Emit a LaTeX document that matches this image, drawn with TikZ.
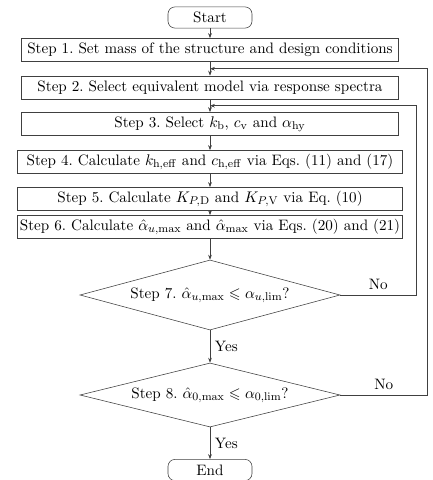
\documentclass[tikz,border=0pt]{standalone}
\usepackage{amsmath}
\usepackage{amssymb}
\usepackage{tikz}
\usetikzlibrary{positioning, shapes, arrows.meta, calc}

\tikzset{
  stepbox/.style={draw=black!75, rectangle, minimum height=0.58cm, inner sep=1pt},
  term/.style={draw=black!75, rectangle, rounded corners=5pt, minimum width=2.1cm, minimum height=0.53cm, inner sep=1pt},
  check/.style={draw=black!75, diamond, aspect=3.7, inner sep=0pt, minimum width=6.5cm},
  flow/.style={->, draw=black!75},
}

\begin{document}
\begin{tikzpicture}[x=0.025cm, y=-0.025cm, >={Stealth[length=3.5pt,width=2.6pt]},
    font=\fontsize{10.75pt}{13pt}\selectfont]
      \useasboundingbox (0,0) rectangle (433,480);

      % Terminals and steps
      \node[term] (start) at (210,17.5) {Start};
      \node[stepbox, minimum width=9.425cm] (s1) at (210,50) {Step 1.\ Set mass of the structure and design conditions};
      \node[stepbox, minimum width=9.425cm] (s2) at (210,87.5) {Step 2.\ Select equivalent model via response spectra};
      \node[stepbox, minimum width=9.425cm] (s3) at (210,124) {Step 3.\ Select $k_{\mathrm{b}}$, $c_{\mathrm{v}}$ and $\alpha_{\mathrm{hy}}$};
      \node[stepbox, minimum width=9.625cm] (s4) at (210,162) {Step 4.\ Calculate $k_{\mathrm{h,eff}}$ and $c_{\mathrm{h,eff}}$ via Eqs.\ (11) and (17)};
      \node[stepbox, minimum width=9.625cm] (s5) at (210,199) {Step 5.\ Calculate $K_{P,\mathrm{D}}$ and $K_{P,\mathrm{V}}$ via Eq.\ (10)};
      \node[stepbox, minimum width=9.625cm] (s6) at (210,227) {Step 6.\ Calculate $\hat{\alpha}_{u,\max}$ and $\hat{\alpha}_{\max}$ via Eqs.\ (20) and (21)};

      % Checks
      \node[check, minimum height=1.75cm] (d7) at (210,295) {Step 7.\ $\hat{\alpha}_{u,\max} \leqslant \alpha_{u,\mathrm{lim}}$?};
      \node[check, minimum height=1.6cm] (d8) at (210,395) {Step 8.\ $\hat{\alpha}_{0,\max} \leqslant \alpha_{0,\mathrm{lim}}$?};
      \node[term] (end) at (210,470) {End};

      % Loop entry points
      \coordinate (in2) at ($(s1.south)!0.5!(s2.north)$);
      \coordinate (in3) at ($(s2.south)!0.5!(s3.north)$);

      % Main flow
      \draw[flow] (start) -- (s1);
      \draw[flow] (s1) -- (s2);
      \draw[flow] (s2) -- (s3);
      \draw[flow] (s3) -- (s4);
      \draw[flow] (s4) -- (s5);
      \draw[flow] (s5) -- (s6);
      \draw[flow] (s6) -- (d7);
      \draw[flow] (d7) -- node[right] {Yes} (d8);
      \draw[flow] (d8) -- node[right] {Yes} (end);

      % Feedback loops
      \draw[flow] (d7.east) -- node[above] {No} ++(76,0) |- (in3);
      \draw[flow] (d8.east) -- node[above] {No} ++(87,0) |- (in2);
    \end{tikzpicture}
\end{document}
